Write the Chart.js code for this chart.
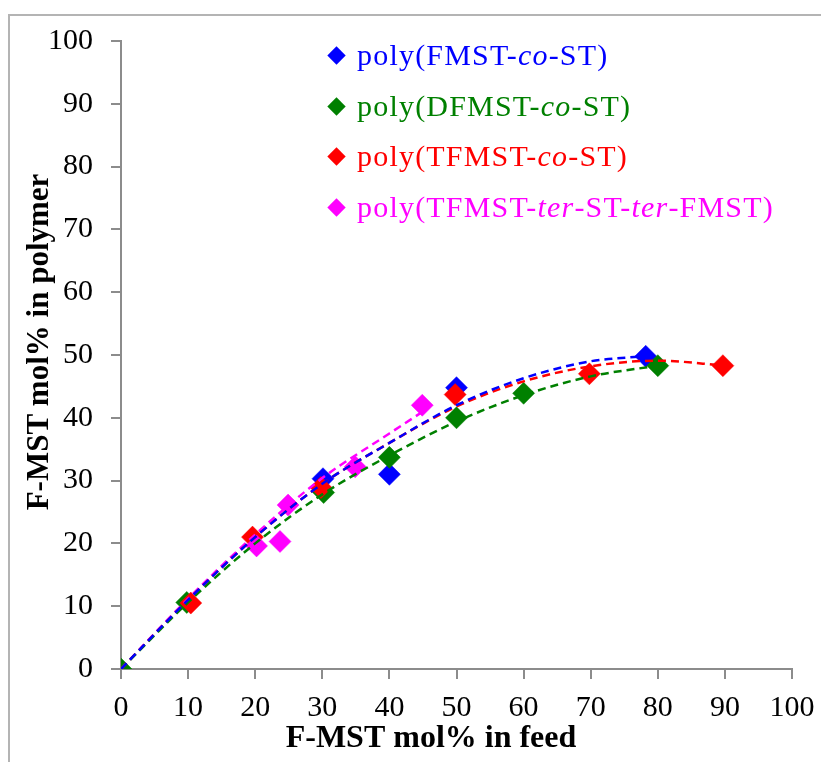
<!DOCTYPE html>
<html>
<head>
<meta charset="utf-8">
<script src="https://cdn.jsdelivr.net/npm/chart.js@4.4.1/dist/chart.umd.min.js"></script>
<style>
  html, body { margin: 0; padding: 0; background: #fff; overflow: hidden; }
  #wrap { position: relative; width: 821px; height: 762px; }
  #frame { position: absolute; left: 8px; top: 14px; width: 830px; height: 800px; border: 2px solid #b4b4b4; box-sizing: border-box; }
  #chart { position: absolute; left: 0; top: 0; }
  #legend { position: absolute; left: 0; top: 0; font-family: "Liberation Serif", serif; font-size: 30px; letter-spacing: 1.2px; }
  .row { position: absolute; left: 326px; white-space: nowrap; line-height: 36px; }
  .mk { display: inline-block; width: 13px; height: 13px; transform: rotate(45deg); margin: 0 14px 0 4px; vertical-align: 3px; }
</style>
</head>
<body>
<div id="wrap">
  <div id="frame"></div>
  <canvas id="chart" width="821" height="762"></canvas>
  <div id="legend"></div>
</div>
<script>
// series names (italic parts wrapped in <i>)
const seriesNames = [
  'poly(FMST-<i>co</i>-ST)',
  'poly(DFMST-<i>co</i>-ST)',
  'poly(TFMST-<i>co</i>-ST)',
  'poly(TFMST-<i>ter</i>-ST-<i>ter</i>-FMST)'
];
const seriesColors = ['#0000ff', '#008000', '#ff0000', '#ff00ff'];

// measured points: F-MST mol% in feed (x) vs in polymer (y)
const fmstX = [30.1, 40, 50, 78.2];
const fmstY = [30.3, 31, 44.8, 49.8];
const dfmstX = [0, 9.8, 30.2, 40, 50, 60, 80];
const dfmstY = [0, 10.6, 28.1, 33.7, 40, 43.9, 48.3];
const tfmstX = [10.4, 19.6, 29.8, 49.8, 69.8, 89.7];
const tfmstY = [10.5, 21, 28.9, 43.7, 47, 48.3];
const terX = [20.2, 23.7, 24.9, 34.9, 44.9];
const terY = [19.6, 20.3, 26.1, 32.2, 42];

// trend lines
const fmstTrendX = [0, 10, 20, 30, 40, 50, 60, 70, 78];
const fmstTrendY = [0, 11, 21, 29.5, 36, 42, 46.3, 49, 49.8];
const dfmstTrendX = [0, 10, 20, 30, 40, 50, 60, 70, 80];
const dfmstTrendY = [0, 10.6, 20, 27.8, 34, 39.4, 43.6, 46.6, 48.3];
const tfmstTrendX = [0, 10, 20, 30, 40, 50, 60, 70, 80, 90];
const tfmstTrendY = [0, 11, 21, 29.5, 36, 41.8, 45.8, 48.2, 49.1, 48.3];
const terTrendX = [0, 10, 20, 30, 40, 45];
const terTrendY = [0, 11.2, 21.4, 30.4, 37.5, 41];

const axisTicks = [0, 10, 20, 30, 40, 50, 60, 70, 80, 90, 100];
const xTitle = 'F-MST mol% in feed';
const yTitle = 'F-MST mol% in polymer';

function pts(xs, ys) { return xs.map((x, i) => ({ x: x, y: ys[i] })); }

const markerSets = [[fmstX, fmstY], [dfmstX, dfmstY], [tfmstX, tfmstY], [terX, terY]];
const trendSets = [[fmstTrendX, fmstTrendY], [dfmstTrendX, dfmstTrendY], [tfmstTrendX, tfmstTrendY], [terTrendX, terTrendY]];

const datasets = [];
trendSets.forEach((s, i) => {
  datasets.push({
    data: pts(s[0], s[1]),
    showLine: true,
    borderColor: seriesColors[i],
    borderWidth: 2.5,
    borderDash: [8, 5],
    pointRadius: 0,
    cubicInterpolationMode: 'monotone',
    order: 0
  });
});
markerSets.forEach((s, i) => {
  datasets.push({
    data: pts(s[0], s[1]),
    showLine: false,
    pointStyle: 'rectRot',
    pointRadius: 11,
    pointBackgroundColor: seriesColors[i],
    pointBorderColor: seriesColors[i],
    pointBorderWidth: 0.5,
    order: 4 - i
  });
});

// legend as html text
const legend = document.getElementById('legend');
seriesNames.forEach((name, i) => {
  const row = document.createElement('div');
  row.className = 'row';
  row.style.top = (37 + i * 50.5) + 'px';
  row.style.color = seriesColors[i];
  row.innerHTML = '<span class="mk" style="background:' + seriesColors[i] + '"></span>' + name;
  legend.appendChild(row);
});

// axis titles, placed like the original (a bit off the plot centre)
const axisTitles = {
  id: 'axisTitles',
  afterDraw(chart) {
    const ctx = chart.ctx;
    ctx.save();
    ctx.fillStyle = '#000';
    ctx.textAlign = 'center';
    ctx.textBaseline = 'middle';
    ctx.font = 'bold 32px "Liberation Serif"';
    ctx.fillText(xTitle, 431, 739);
    ctx.font = 'bold 31px "Liberation Serif"';
    ctx.translate(40, 342);
    ctx.rotate(-Math.PI / 2);
    ctx.fillText(yTitle, 0, 0);
    ctx.restore();
  }
};

const tickFont = { family: 'Liberation Serif', size: 30 };
const axisGrid = { drawOnChartArea: false, drawTicks: true, tickLength: 10, color: '#8c8c8c', tickColor: '#8c8c8c', lineWidth: 2 };

new Chart(document.getElementById('chart'), {
  type: 'scatter',
  data: { datasets: datasets },
  options: {
    responsive: false,
    animation: false,
    layout: { padding: { left: 0, right: 29, top: 41, bottom: 0 } },
    plugins: { legend: { display: false }, tooltip: { enabled: false } },
    scales: {
      x: {
        type: 'linear', min: 0, max: 100,
        afterBuildTicks: s => { s.ticks = axisTicks.map(v => ({ value: v })); },
        afterFit: s => { s.height = 93; s.paddingRight = 0; s.paddingLeft = 0; },
        ticks: { font: tickFont, color: '#000', padding: 11 },
        grid: axisGrid,
        border: { color: '#8c8c8c', width: 2 }
      },
      y: {
        type: 'linear', min: 0, max: 100,
        afterBuildTicks: s => { s.ticks = axisTicks.map(v => ({ value: v })); },
        afterFit: s => { s.width = 121; },
        ticks: { font: tickFont, color: '#000', padding: 18 },
        grid: axisGrid,
        border: { color: '#8c8c8c', width: 2 }
      }
    }
  },
  plugins: [axisTitles]
});
</script>
</body>
</html>
